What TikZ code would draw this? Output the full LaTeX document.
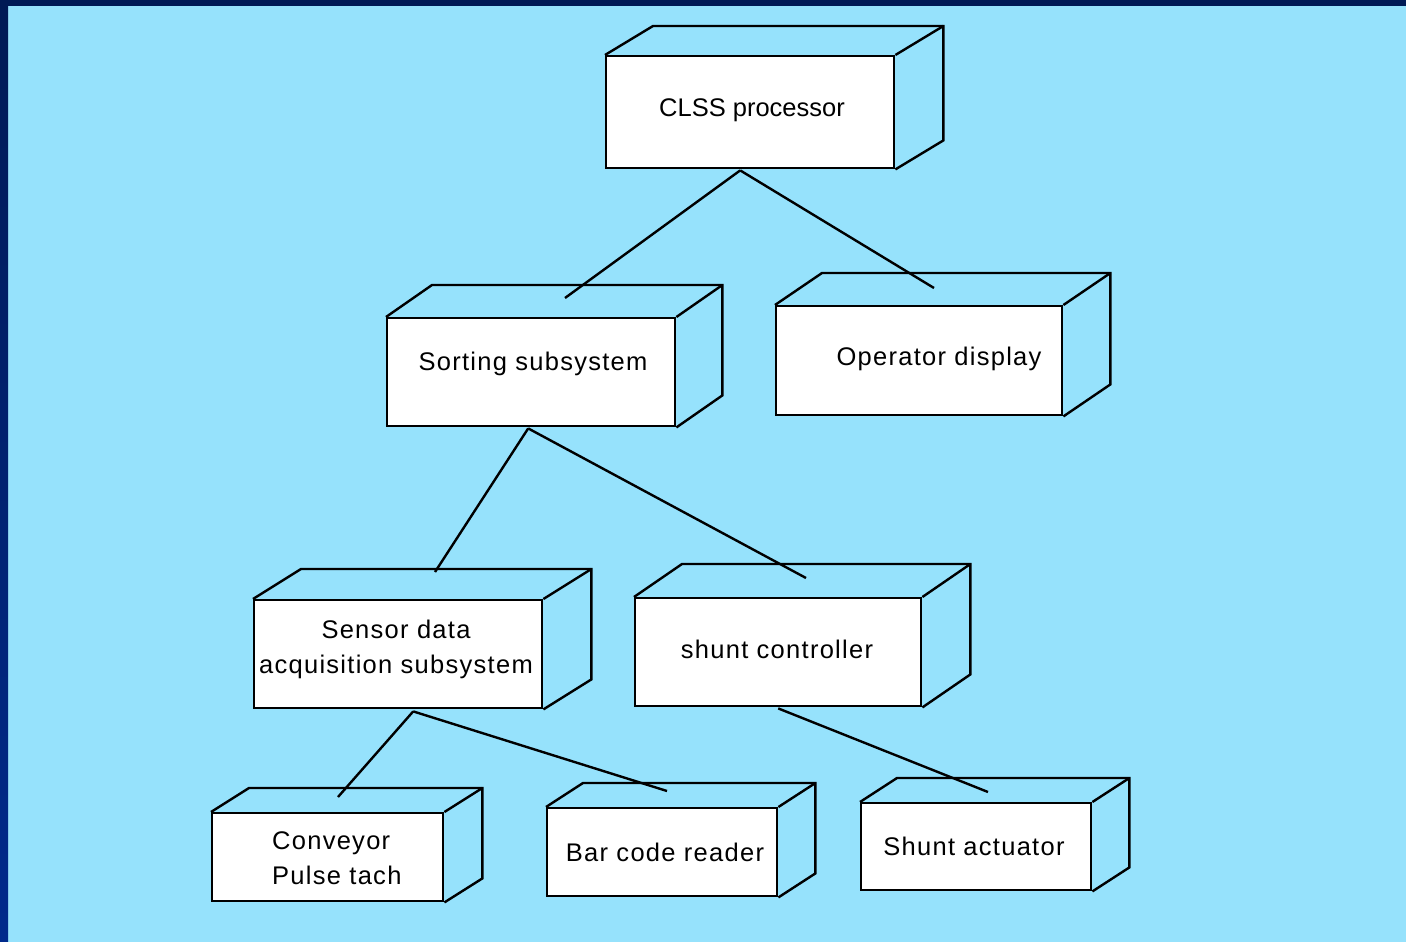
\documentclass[tikz,border=0pt]{standalone}
\usepackage{fontspec}
\setmainfont{Liberation Sans}
\newfontfamily\boxfont[LetterSpace=5]{Liberation Sans}
\newfontfamily\boxfontplain{Liberation Sans}
\definecolor{sky}{HTML}{96E2FC}
\definecolor{navytop}{HTML}{001A55}
\definecolor{navybot}{HTML}{002A8C}

% the receding top and right faces of a box node
\newcommand\boxdepth[3]{%
  \draw[edge] (#1.north west) -- ++(#2,#3)
    -- ([shift={(#2,#3)}]#1.north east)
    -- ([shift={(#2,#3)}]#1.south east) -- (#1.south east);
  \draw[edge] (#1.north east) -- ++(#2,#3);
}

\tikzset{
  edge/.style={line width=2.4pt, black},
  front/.style={draw=black, line width=2.4pt, fill=white, rectangle,
    inner sep=0pt, anchor=north west},
  lbl/.style={font=\fontsize{25.5}{35}\selectfont\boxfont, inner sep=0pt, text=black},
  link/.style={line width=2.4pt, black},
}

\begin{document}
\begin{tikzpicture}[x=1pt, y=-1pt]
  \useasboundingbox (0,0) rectangle (1406,942);
  % backdrop and frame
  \fill[sky] (0,0) rectangle (1406,942);
  \fill[navytop] (0,0) rectangle (1406,6);
  \shade[top color=navytop, bottom color=navybot] (0,0) rectangle (8,942);

  % boxes: front faces
  \node[front, minimum width=288pt, minimum height=112pt] (cls) at (605,55) {};
  \node[front, minimum width=288pt, minimum height=108pt] (sort) at (386,317) {};
  \node[front, minimum width=286pt, minimum height=109pt] (opd) at (775,305) {};
  \node[front, minimum width=288pt, minimum height=108pt] (sens) at (253,599) {};
  \node[front, minimum width=286pt, minimum height=108pt] (shc) at (634,597) {};
  \node[front, minimum width=231pt, minimum height=88pt] (conv) at (211,812) {};
  \node[front, minimum width=230pt, minimum height=88pt] (bcr) at (546,807) {};
  \node[front, minimum width=230pt, minimum height=87pt] (sha) at (860,802) {};

  % boxes: depth faces
  \boxdepth{cls}{48}{-29}
  \boxdepth{sort}{46}{-32}
  \boxdepth{opd}{47}{-32}
  \boxdepth{sens}{48}{-30}
  \boxdepth{shc}{48}{-33}
  \boxdepth{conv}{38}{-24}
  \boxdepth{bcr}{37}{-24}
  \boxdepth{sha}{37}{-24}

  % labels
  \node[lbl, anchor=base, font=\fontsize{25.5}{35}\selectfont\boxfontplain] (cls-t) at (752,117) {CLSS processor};
  \node[lbl, anchor=base] (sort-t) at (533,370) {Sorting subsystem};
  \node[lbl, anchor=base] (opd-t) at (939,365) {Operator display};
  \node[lbl, align=center] (sens-t) at (396,649.5) {Sensor data\\acquisition subsystem};
  \node[lbl, anchor=base] (shc-t) at (777,658) {shunt controller};
  \node[lbl, align=left, anchor=west] (conv-t) at (272,858.5) {Conveyor\\Pulse tach};
  \node[lbl, anchor=base] (bcr-t) at (665,861) {Bar code reader};
  \node[lbl, anchor=base] (sha-t) at (974,855) {Shunt actuator};

  % connector roots and tips
  \coordinate (cls-r) at ([xshift=-10pt, yshift=-1pt]cls.south);
  \coordinate (sort-r) at ([xshift=-3pt, yshift=-1pt]sort.south);
  \coordinate (sens-r) at ([xshift=15pt, yshift=-2pt]sens.south);
  \coordinate (shc-r) at ([yshift=-1pt]shc.south);
  \coordinate (sort-tip) at (565,298);
  \coordinate (opd-tip) at (934,288);
  \coordinate (sens-tip) at (435,572);
  \coordinate (shc-tip) at (806,578);
  \coordinate (conv-tip) at (338,797);
  \coordinate (bcr-tip) at (667,791);
  \coordinate (sha-tip) at (988,792);

  \draw[link] (cls-r) -- (sort-tip);
  \draw[link] (cls-r) -- (opd-tip);
  \draw[link] (sort-r) -- (sens-tip);
  \draw[link] (sort-r) -- (shc-tip);
  \draw[link] (sens-r) -- (conv-tip);
  \draw[link] (sens-r) -- (bcr-tip);
  \draw[link] (shc-r) -- (sha-tip);
\end{tikzpicture}
\end{document}
